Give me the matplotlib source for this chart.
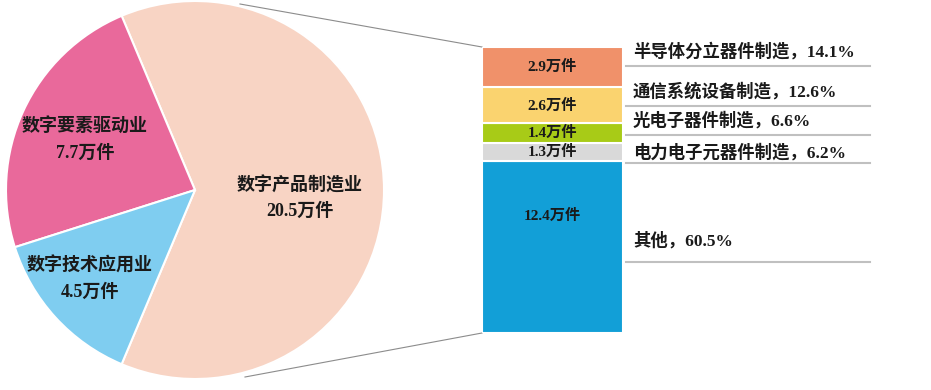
import matplotlib
matplotlib.use("Agg")
import matplotlib.pyplot as plt
from matplotlib.lines import Line2D

plt.rcParams['font.family'] = ['Liberation Serif', 'Noto Sans CJK SC', 'DejaVu Sans']

# Pie data
pie_labels = ['数字产品制造业', '数字要素驱动业', '数字技术应用业']
pie_values = [20.5, 7.7, 4.5]
pie_colors = ['#F8D4C4', '#E9699B', '#7FCDF0']

# Bar (breakdown of 数字产品制造业), bottom to top
bar_labels = ['其他', '电力电子元器件制造', '光电子器件制造', '通信系统设备制造', '半导体分立器件制造']
bar_values = [12.4, 1.3, 1.4, 2.6, 2.9]
bar_pcts = ['60.5%', '6.2%', '6.6%', '12.6%', '14.1%']
bar_colors = ['#129FD7', '#D9D9D9', '#A8CB17', '#FAD36F', '#F0916A']

W, H = 931, 390
fig = plt.figure(figsize=(W / 100, H / 100), dpi=100)
ax = fig.add_axes([0, 0, 1, 1])

cx, cy, r = 195, 200, 189
start = -180 * pie_values[0] / sum(pie_values)
wedges, _ = ax.pie(pie_values, colors=pie_colors, startangle=start, counterclock=True,
                   center=(cx, cy), radius=r,
                   wedgeprops=dict(edgecolor='white', linewidth=1.5))
ax.set_xlim(0, W)
ax.set_ylim(0, H)
ax.set_aspect('auto')
ax.axis('off')

# (x, y_name, y_value) in pixels from top
pie_text_pos = [(300, 186, 211), (85, 127, 153), (90, 266, 292)]
for lab, val, (x, y1, y2) in zip(pie_labels, pie_values, pie_text_pos):
    ax.text(x, H - y1, lab, ha='center', va='center', fontsize=13,
            fontweight='bold', color='#1a1a1a')
    ax.text(x, H - y2, f'{val}万件', ha='center', va='center', fontsize=13,
            fontweight='bold', color='#1a1a1a')

# connection lines (pixel coords, y from bottom)
ax.add_line(Line2D([240, 482], [H - 4, H - 47], color='#8c8c8c', lw=0.8))
ax.add_line(Line2D([245, 482], [H - 377, H - 333], color='#8c8c8c', lw=0.8))

# bar axes
bx0, by_top, bw, bh = 482, 47, 141, 286
axb = fig.add_axes([bx0 / W, (H - by_top - bh) / H, bw / W, bh / H])
total = sum(bar_values)
bottom = 0
for i, (v, c) in enumerate(zip(bar_values, bar_colors)):
    axb.bar(0, v, bottom=bottom, width=1.0, color=c, edgecolor='white', linewidth=1.5)
    ty = bottom + v / 2
    if i == 0:
        ty = bottom + v * 0.68
    axb.text(0, ty, f'{v}万件', ha='center', va='center', fontsize=11,
             fontweight='bold', color='#1a1a1a')
    bottom += v
axb.set_xlim(-0.5, 0.5)
axb.set_ylim(0, total)
axb.axis('off')

# right side labels and lines (pixel y from top)
text_y = [241, 153, 121, 92, 52]
line_y = [262, 163, 135, 106, 66]
for lab, pct, ty, ly in zip(bar_labels, bar_pcts, text_y, line_y):
    ax.text(633, H - ty, f'{lab}，{pct}', ha='left', va='center', fontsize=12.5,
            fontweight='bold', color='#1a1a1a')
    ax.add_line(Line2D([626, 870], [H - ly, H - ly], color='#c0c0c0', lw=1.5))

fig.savefig('out.png', dpi=100)
